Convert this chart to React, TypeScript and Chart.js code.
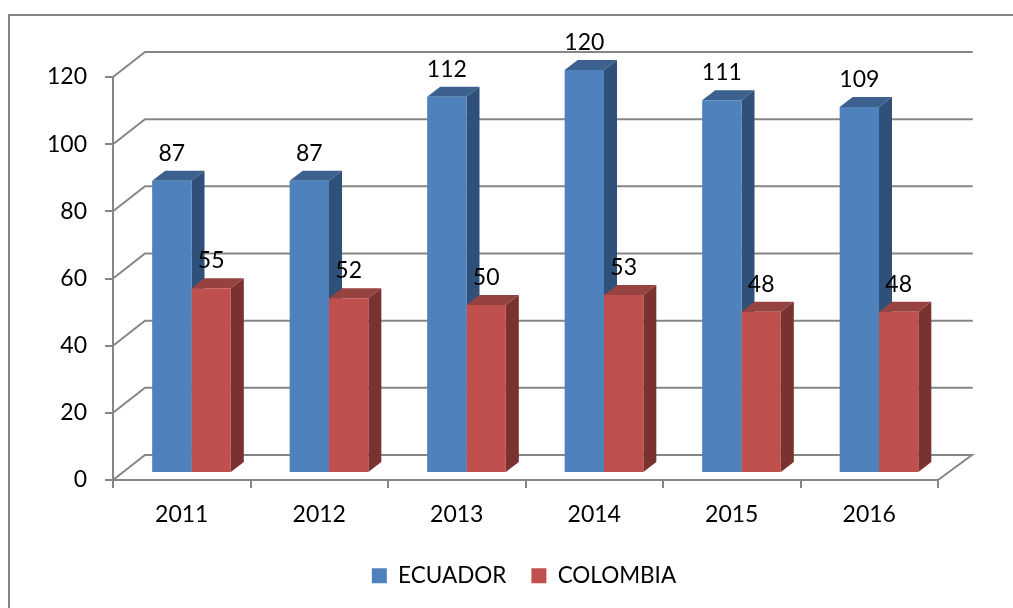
import React, { useEffect, useRef } from "react";
import { Chart, registerables } from "chart.js";

Chart.register(...registerables);

const years = ["2011", "2012", "2013", "2014", "2015", "2016"];
const ecuador = [87, 87, 112, 120, 111, 109];
const colombia = [55, 52, 50, 53, 48, 48];

const FONT = "Lato";
const FONT_SIZE = 23;
const LEGEND_FONT_SIZE = 22.5;
const LEGEND_PADDING = 25;
const LINE = "#868686";
const WALL = { dx: 32, dy: -25 };
const BAR_SHIFT = { dx: 9.75, dy: -7 };
const BAR_DEPTH = { dx: 13, dy: -10 };
const SHADES = [
  { top: "#3C618F", side: "#2F5078" },
  { top: "#964240", side: "#7A3231" },
];

const scene = {
  id: "scene",
  beforeDraw(chart: any) {
    const { ctx, chartArea, scales, legend } = chart;
    // outer frame runs off the right and bottom of the picture
    ctx.save();
    ctx.strokeStyle = LINE;
    ctx.lineWidth = 2;
    ctx.beginPath();
    ctx.moveTo(9, chart.height + 5);
    ctx.lineTo(9, 15);
    ctx.lineTo(chart.width + 5, 15);
    ctx.stroke();
    // wall and floor lines
    ctx.lineCap = "round";
    for (const v of scales.y.ticks) {
      const y = scales.y.getPixelForValue(v.value);
      ctx.beginPath();
      ctx.moveTo(chartArea.left, y);
      ctx.lineTo(chartArea.left + WALL.dx, y + WALL.dy);
      ctx.lineTo(chartArea.right + WALL.dx + 2, y + WALL.dy);
      if (v.value === 0) ctx.lineTo(chartArea.right, y);
      ctx.stroke();
    }
    ctx.restore();
    // legend placement
    if (legend) {
      const w = legend.right - legend.left;
      legend.left = 524 - w / 2;
      legend.right = legend.left + w;
      const h = legend.bottom - legend.top;
      legend.top = 578 - LEGEND_PADDING - (LEGEND_FONT_SIZE * 1.2) / 2;
      legend.bottom = legend.top + h;
    }
  },
  beforeDatasetsDraw(chart: any) {
    const { ctx } = chart;
    ctx.save();
    ctx.translate(BAR_SHIFT.dx, BAR_SHIFT.dy);
    // side and top faces, back to front: the second series' faces cover the first's
    chart.data.datasets.forEach((_: any, i: number) => {
      const shade = SHADES[i];
      for (const bar of chart.getDatasetMeta(i).data as any[]) {
        const l = bar.x - bar.width / 2;
        const r = bar.x + bar.width / 2;
        const t = bar.y;
        const b = bar.base;
        ctx.fillStyle = shade.top;
        ctx.beginPath();
        ctx.moveTo(l, t);
        ctx.lineTo(l + BAR_DEPTH.dx, t + BAR_DEPTH.dy);
        ctx.lineTo(r + BAR_DEPTH.dx, t + BAR_DEPTH.dy);
        ctx.lineTo(r, t);
        ctx.closePath();
        ctx.fill();
        ctx.fillStyle = shade.side;
        ctx.beginPath();
        ctx.moveTo(r, t);
        ctx.lineTo(r + BAR_DEPTH.dx, t + BAR_DEPTH.dy);
        ctx.lineTo(r + BAR_DEPTH.dx, b + BAR_DEPTH.dy);
        ctx.lineTo(r, b);
        ctx.closePath();
        ctx.fill();
      }
    });
  },
  afterDatasetsDraw(chart: any) {
    const { ctx } = chart;
    ctx.fillStyle = "#000";
    ctx.font = `${FONT_SIZE}px ${FONT}`;
    ctx.textAlign = "center";
    ctx.textBaseline = "alphabetic";
    chart.data.datasets.forEach((ds: any, i: number) => {
      chart.getDatasetMeta(i).data.forEach((bar: any, j: number) => {
        ctx.fillText(String(ds.data[j]), bar.x, bar.y - 20);
      });
    });
    ctx.restore();
  },
};

export default function App() {
  const ref = useRef<HTMLCanvasElement>(null);
  useEffect(() => {
    const chart = new Chart(ref.current!, {
      type: "bar",
      data: {
        labels: years,
        datasets: [
          { label: "ECUADOR", data: ecuador, backgroundColor: "#4F81BD", clip: false as any },
          { label: "COLOMBIA", data: colombia, backgroundColor: "#C0504D", clip: false as any },
        ],
      },
      options: {
        responsive: false,
        animation: false,
        events: [],
        layout: { padding: { top: 77, right: 75, left: 0, bottom: 0 } },
        datasets: { bar: { categoryPercentage: 0.572, barPercentage: 1, borderWidth: 0 } },
        scales: {
          x: {
            grid: { drawOnChartArea: false, color: LINE, lineWidth: 2, tickLength: 8 },
            border: { color: LINE, width: 2 },
            ticks: { color: "#000", font: { family: FONT, size: FONT_SIZE }, padding: 13, maxRotation: 0 },
            afterFit(s: any) {
              s.height = 128 - (s.chart.legend?.height ?? 0);
            },
          },
          y: {
            min: 0,
            max: 120,
            grid: { drawOnChartArea: false, color: LINE, lineWidth: 2, tickLength: 8 },
            border: { color: LINE, width: 2 },
            ticks: { stepSize: 20, color: "#000", font: { family: FONT, size: FONT_SIZE }, padding: 18 },
            afterFit(s: any) {
              s.width = 113;
            },
          },
        },
        plugins: {
          tooltip: { enabled: false },
          legend: {
            position: "bottom",
            labels: {
              boxWidth: 15,
              boxHeight: 15,
              padding: LEGEND_PADDING,
              color: "#000",
              font: { family: FONT, size: LEGEND_FONT_SIZE },
            },
          },
        },
      },
      plugins: [scene],
    });
    return () => chart.destroy();
  }, []);
  return (
    <div style={{ position: "absolute", left: 0, top: 0, width: 1013, height: 608 }}>
      <canvas ref={ref} width={1013} height={608} style={{ display: "block" }} />
    </div>
  );
}
